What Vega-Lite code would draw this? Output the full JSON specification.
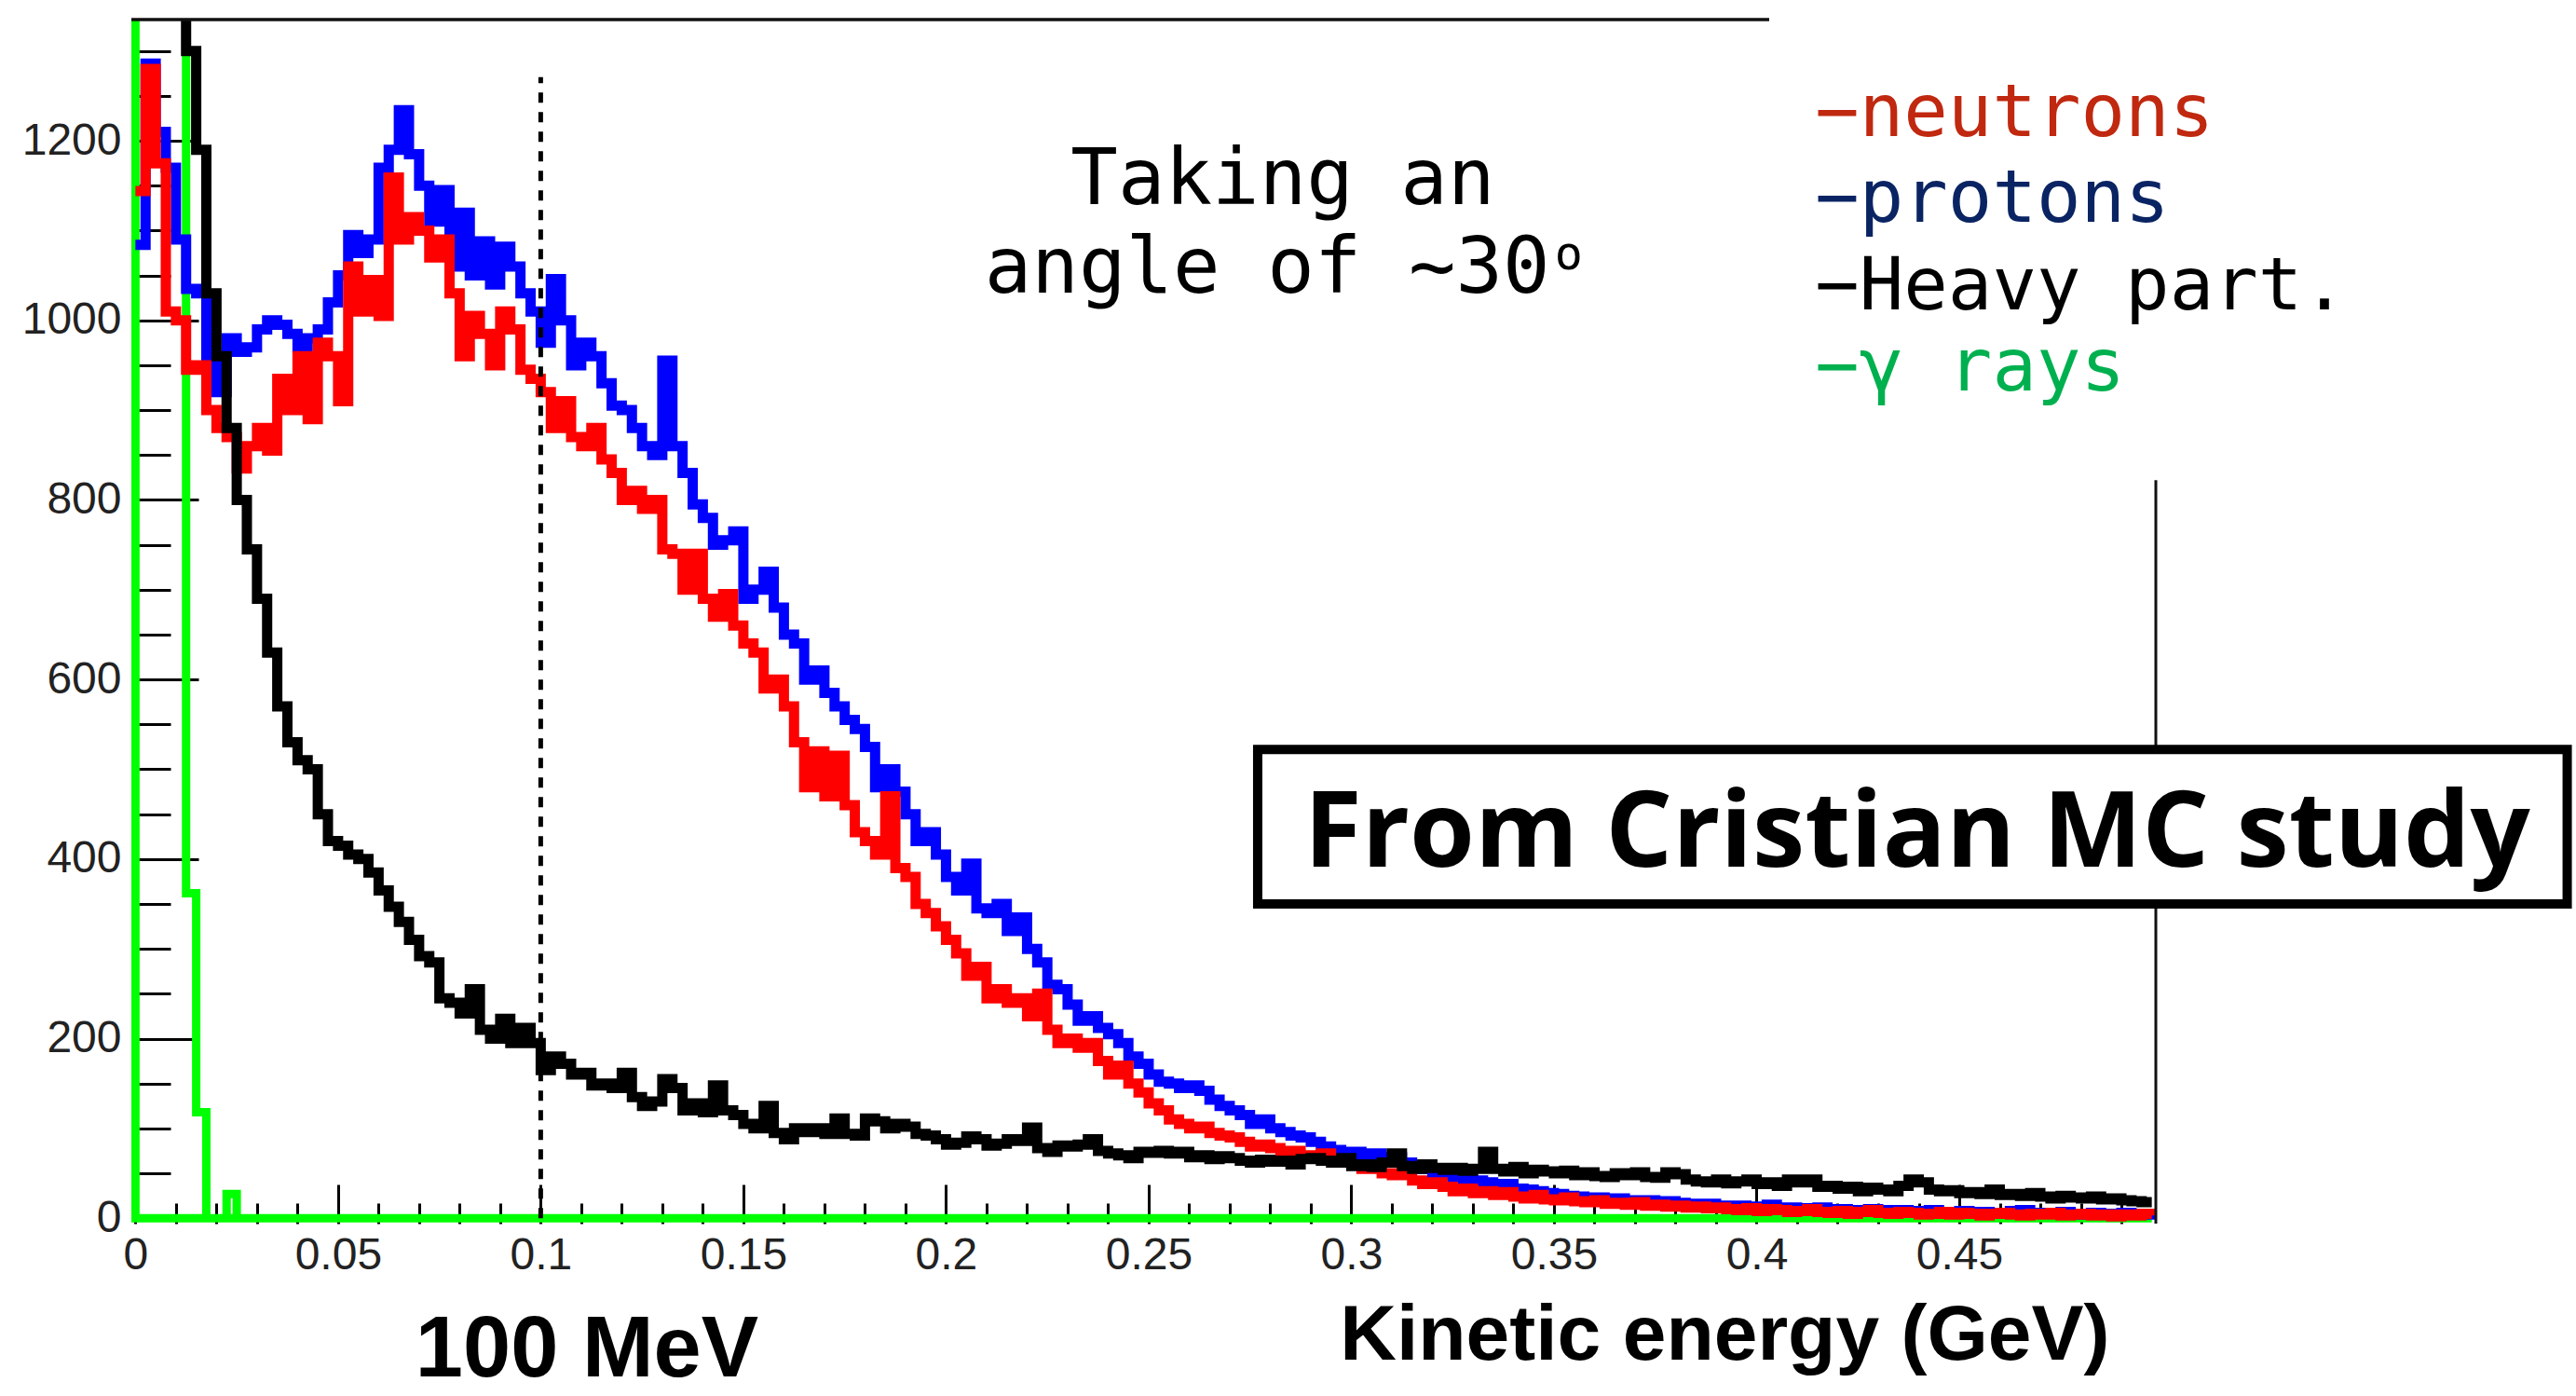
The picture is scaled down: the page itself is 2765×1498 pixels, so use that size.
{
  "$schema": "https://vega.github.io/schema/vega-lite/v6.json",
  "width": 2173,
  "height": 1292,
  "autosize": {"type": "none"},
  "padding": {"left": 141, "top": 21, "right": 451, "bottom": 185},
  "background": "white",
  "config": {"view": {"stroke": null}},
  "datasets": {
    "hist": [
      {"x":0,"n":1144,"p":1084,"h":3000,"g":3000},
      {"x":0.0025,"n":1280,"p":1286,"h":3000,"g":3000},
      {"x":0.005,"n":1175,"p":1210,"h":3000,"g":3000},
      {"x":0.0075,"n":1010,"p":1170,"h":3000,"g":3000},
      {"x":0.01,"n":1000,"p":1090,"h":3000,"g":3000},
      {"x":0.0125,"n":945,"p":1035,"h":1300,"g":362},
      {"x":0.015,"n":950,"p":1030,"h":1190,"g":118},
      {"x":0.0175,"n":900,"p":960,"h":1030,"g":0},
      {"x":0.02,"n":880,"p":920,"h":960,"g":0},
      {"x":0.0225,"n":870,"p":980,"h":880,"g":27},
      {"x":0.025,"n":835,"p":965,"h":800,"g":0},
      {"x":0.0275,"n":860,"p":970,"h":745,"g":0},
      {"x":0.03,"n":880,"p":990,"h":690,"g":0},
      {"x":0.0325,"n":855,"p":1000,"h":630,"g":0},
      {"x":0.035,"n":935,"p":995,"h":570,"g":0},
      {"x":0.0375,"n":900,"p":985,"h":530,"g":0},
      {"x":0.04,"n":960,"p":970,"h":510,"g":0},
      {"x":0.0425,"n":890,"p":980,"h":500,"g":0},
      {"x":0.045,"n":975,"p":990,"h":450,"g":0},
      {"x":0.0475,"n":960,"p":1020,"h":420,"g":0},
      {"x":0.05,"n":910,"p":1050,"h":415,"g":0},
      {"x":0.0525,"n":1060,"p":1095,"h":405,"g":0},
      {"x":0.055,"n":1010,"p":1075,"h":400,"g":0},
      {"x":0.0575,"n":1045,"p":1090,"h":385,"g":0},
      {"x":0.06,"n":1005,"p":1170,"h":365,"g":0},
      {"x":0.0625,"n":1159,"p":1190,"h":347,"g":0},
      {"x":0.065,"n":1090,"p":1234,"h":330,"g":0},
      {"x":0.0675,"n":1115,"p":1185,"h":310,"g":0},
      {"x":0.07,"n":1100,"p":1150,"h":292,"g":0},
      {"x":0.0725,"n":1070,"p":1110,"h":285,"g":0},
      {"x":0.075,"n":1090,"p":1145,"h":245,"g":0},
      {"x":0.0775,"n":1030,"p":1060,"h":240,"g":0},
      {"x":0.08,"n":960,"p":1120,"h":228,"g":0},
      {"x":0.0825,"n":1005,"p":1050,"h":255,"g":0},
      {"x":0.085,"n":985,"p":1088,"h":210,"g":0},
      {"x":0.0875,"n":950,"p":1040,"h":200,"g":0},
      {"x":0.09,"n":1010,"p":1082,"h":222,"g":0},
      {"x":0.0925,"n":990,"p":1060,"h":195,"g":0},
      {"x":0.095,"n":945,"p":1030,"h":212,"g":0},
      {"x":0.0975,"n":935,"p":1010,"h":195,"g":0},
      {"x":0.1,"n":920,"p":975,"h":165,"g":0},
      {"x":0.1025,"n":880,"p":1046,"h":180,"g":0},
      {"x":0.105,"n":910,"p":1000,"h":172,"g":0},
      {"x":0.1075,"n":870,"p":950,"h":160,"g":0},
      {"x":0.11,"n":860,"p":975,"h":162,"g":0},
      {"x":0.1125,"n":880,"p":960,"h":148,"g":0},
      {"x":0.115,"n":845,"p":930,"h":150,"g":0},
      {"x":0.1175,"n":830,"p":905,"h":145,"g":0},
      {"x":0.12,"n":800,"p":900,"h":162,"g":0},
      {"x":0.1225,"n":810,"p":880,"h":135,"g":0},
      {"x":0.125,"n":790,"p":860,"h":125,"g":0},
      {"x":0.1275,"n":800,"p":850,"h":130,"g":0},
      {"x":0.13,"n":745,"p":955,"h":155,"g":0},
      {"x":0.1325,"n":740,"p":860,"h":145,"g":0},
      {"x":0.135,"n":700,"p":830,"h":120,"g":0},
      {"x":0.1375,"n":740,"p":795,"h":128,"g":0},
      {"x":0.14,"n":690,"p":780,"h":118,"g":0},
      {"x":0.1425,"n":670,"p":750,"h":148,"g":0},
      {"x":0.145,"n":695,"p":755,"h":120,"g":0},
      {"x":0.1475,"n":660,"p":765,"h":115,"g":0},
      {"x":0.15,"n":640,"p":690,"h":105,"g":0},
      {"x":0.1525,"n":630,"p":700,"h":100,"g":0},
      {"x":0.155,"n":590,"p":720,"h":125,"g":0},
      {"x":0.1575,"n":600,"p":680,"h":95,"g":0},
      {"x":0.16,"n":570,"p":650,"h":88,"g":0},
      {"x":0.1625,"n":530,"p":640,"h":100,"g":0},
      {"x":0.165,"n":480,"p":600,"h":96,"g":0},
      {"x":0.1675,"n":520,"p":610,"h":100,"g":0},
      {"x":0.17,"n":470,"p":585,"h":94,"g":0},
      {"x":0.1725,"n":515,"p":570,"h":111,"g":0},
      {"x":0.175,"n":460,"p":555,"h":94,"g":0},
      {"x":0.1775,"n":430,"p":545,"h":92,"g":0},
      {"x":0.18,"n":420,"p":525,"h":111,"g":0},
      {"x":0.1825,"n":405,"p":480,"h":108,"g":0},
      {"x":0.185,"n":470,"p":500,"h":100,"g":0},
      {"x":0.1875,"n":390,"p":475,"h":105,"g":0},
      {"x":0.19,"n":380,"p":450,"h":102,"g":0},
      {"x":0.1925,"n":350,"p":420,"h":94,"g":0},
      {"x":0.195,"n":340,"p":430,"h":92,"g":0},
      {"x":0.1975,"n":325,"p":405,"h":88,"g":0},
      {"x":0.2,"n":310,"p":380,"h":82,"g":0},
      {"x":0.2025,"n":295,"p":365,"h":84,"g":0},
      {"x":0.205,"n":270,"p":395,"h":91,"g":0},
      {"x":0.2075,"n":280,"p":345,"h":88,"g":0},
      {"x":0.21,"n":245,"p":340,"h":81,"g":0},
      {"x":0.2125,"n":255,"p":350,"h":83,"g":0},
      {"x":0.215,"n":240,"p":320,"h":88,"g":0},
      {"x":0.2175,"n":245,"p":335,"h":86,"g":0},
      {"x":0.22,"n":225,"p":300,"h":101,"g":0},
      {"x":0.2225,"n":250,"p":285,"h":78,"g":0},
      {"x":0.225,"n":210,"p":260,"h":74,"g":0},
      {"x":0.2275,"n":195,"p":255,"h":81,"g":0},
      {"x":0.23,"n":200,"p":238,"h":80,"g":0},
      {"x":0.2325,"n":190,"p":220,"h":82,"g":0},
      {"x":0.235,"n":195,"p":225,"h":88,"g":0},
      {"x":0.2375,"n":175,"p":212,"h":75,"g":0},
      {"x":0.24,"n":160,"p":205,"h":72,"g":0},
      {"x":0.2425,"n":170,"p":195,"h":70,"g":0},
      {"x":0.245,"n":150,"p":180,"h":67,"g":0},
      {"x":0.2475,"n":140,"p":172,"h":74,"g":0},
      {"x":0.25,"n":128,"p":160,"h":73,"g":0},
      {"x":0.2525,"n":120,"p":152,"h":75,"g":0},
      {"x":0.255,"n":110,"p":150,"h":72,"g":0},
      {"x":0.2575,"n":105,"p":145,"h":74,"g":0},
      {"x":0.26,"n":100,"p":148,"h":68,"g":0},
      {"x":0.2625,"n":102,"p":142,"h":70,"g":0},
      {"x":0.265,"n":95,"p":132,"h":66,"g":0},
      {"x":0.2675,"n":92,"p":125,"h":69,"g":0},
      {"x":0.27,"n":90,"p":120,"h":67,"g":0},
      {"x":0.2725,"n":85,"p":115,"h":64,"g":0},
      {"x":0.275,"n":80,"p":105,"h":62,"g":0},
      {"x":0.2775,"n":82,"p":110,"h":65,"g":0},
      {"x":0.28,"n":78,"p":100,"h":63,"g":0},
      {"x":0.2825,"n":72,"p":96,"h":64,"g":0},
      {"x":0.285,"n":75,"p":92,"h":60,"g":0},
      {"x":0.2875,"n":70,"p":90,"h":66,"g":0},
      {"x":0.29,"n":68,"p":85,"h":67,"g":0},
      {"x":0.2925,"n":72,"p":80,"h":64,"g":0},
      {"x":0.295,"n":64,"p":76,"h":62,"g":0},
      {"x":0.2975,"n":66,"p":68,"h":67,"g":0},
      {"x":0.3,"n":60,"p":74,"h":58,"g":0},
      {"x":0.3025,"n":55,"p":70,"h":60,"g":0},
      {"x":0.305,"n":58,"p":72,"h":57,"g":0},
      {"x":0.3075,"n":50,"p":67,"h":62,"g":0},
      {"x":0.31,"n":48,"p":68,"h":72,"g":0},
      {"x":0.3125,"n":52,"p":62,"h":58,"g":0},
      {"x":0.315,"n":42,"p":58,"h":55,"g":0},
      {"x":0.3175,"n":38,"p":55,"h":60,"g":0},
      {"x":0.32,"n":40,"p":50,"h":56,"g":0},
      {"x":0.3225,"n":35,"p":48,"h":54,"g":0},
      {"x":0.325,"n":30,"p":45,"h":56,"g":0},
      {"x":0.3275,"n":33,"p":44,"h":53,"g":0},
      {"x":0.33,"n":28,"p":42,"h":55,"g":0},
      {"x":0.3325,"n":30,"p":40,"h":74,"g":0},
      {"x":0.335,"n":26,"p":36,"h":55,"g":0},
      {"x":0.3375,"n":29,"p":38,"h":52,"g":0},
      {"x":0.34,"n":24,"p":33,"h":57,"g":0},
      {"x":0.3425,"n":22,"p":32,"h":50,"g":0},
      {"x":0.345,"n":26,"p":30,"h":54,"g":0},
      {"x":0.3475,"n":21,"p":28,"h":52,"g":0},
      {"x":0.35,"n":20,"p":27,"h":50,"g":0},
      {"x":0.3525,"n":23,"p":25,"h":53,"g":0},
      {"x":0.355,"n":19,"p":24,"h":48,"g":0},
      {"x":0.3575,"n":18,"p":22,"h":51,"g":0},
      {"x":0.36,"n":20,"p":23,"h":47,"g":0},
      {"x":0.3625,"n":16,"p":21,"h":46,"g":0},
      {"x":0.365,"n":17,"p":22,"h":50,"g":0},
      {"x":0.3675,"n":15,"p":20,"h":48,"g":0},
      {"x":0.37,"n":18,"p":19,"h":51,"g":0},
      {"x":0.3725,"n":14,"p":20,"h":46,"g":0},
      {"x":0.375,"n":15,"p":18,"h":45,"g":0},
      {"x":0.3775,"n":13,"p":19,"h":51,"g":0},
      {"x":0.38,"n":14,"p":17,"h":49,"g":0},
      {"x":0.3825,"n":12,"p":16,"h":43,"g":0},
      {"x":0.385,"n":13,"p":15,"h":41,"g":0},
      {"x":0.3875,"n":11,"p":16,"h":40,"g":0},
      {"x":0.39,"n":12,"p":14,"h":43,"g":0},
      {"x":0.3925,"n":10,"p":13,"h":39,"g":0},
      {"x":0.395,"n":9,"p":14,"h":41,"g":0},
      {"x":0.3975,"n":11,"p":12,"h":43,"g":0},
      {"x":0.4,"n":8,"p":13,"h":38,"g":0},
      {"x":0.4025,"n":10,"p":15,"h":40,"g":0},
      {"x":0.405,"n":9,"p":11,"h":36,"g":0},
      {"x":0.4075,"n":7,"p":12,"h":43,"g":0},
      {"x":0.41,"n":8,"p":11,"h":40,"g":0},
      {"x":0.4125,"n":10,"p":10,"h":43,"g":0},
      {"x":0.415,"n":7,"p":12,"h":35,"g":0},
      {"x":0.4175,"n":6,"p":9,"h":36,"g":0},
      {"x":0.42,"n":8,"p":10,"h":33,"g":0},
      {"x":0.4225,"n":5,"p":9,"h":35,"g":0},
      {"x":0.425,"n":7,"p":8,"h":30,"g":0},
      {"x":0.4275,"n":9,"p":10,"h":34,"g":0},
      {"x":0.43,"n":6,"p":9,"h":32,"g":0},
      {"x":0.4325,"n":5,"p":8,"h":30,"g":0},
      {"x":0.435,"n":7,"p":9,"h":36,"g":0},
      {"x":0.4375,"n":6,"p":8,"h":43,"g":0},
      {"x":0.44,"n":4,"p":7,"h":40,"g":0},
      {"x":0.4425,"n":5,"p":9,"h":32,"g":0},
      {"x":0.445,"n":7,"p":6,"h":30,"g":0},
      {"x":0.4475,"n":4,"p":7,"h":31,"g":0},
      {"x":0.45,"n":6,"p":8,"h":28,"g":0},
      {"x":0.4525,"n":5,"p":6,"h":29,"g":0},
      {"x":0.455,"n":3,"p":7,"h":27,"g":0},
      {"x":0.4575,"n":5,"p":5,"h":32,"g":0},
      {"x":0.46,"n":6,"p":6,"h":26,"g":0},
      {"x":0.4625,"n":4,"p":8,"h":27,"g":0},
      {"x":0.465,"n":3,"p":9,"h":25,"g":0},
      {"x":0.4675,"n":5,"p":6,"h":28,"g":0},
      {"x":0.47,"n":4,"p":5,"h":24,"g":0},
      {"x":0.4725,"n":6,"p":6,"h":22,"g":0},
      {"x":0.475,"n":3,"p":7,"h":25,"g":0},
      {"x":0.4775,"n":4,"p":5,"h":23,"g":0},
      {"x":0.48,"n":5,"p":4,"h":22,"g":0},
      {"x":0.4825,"n":3,"p":6,"h":24,"g":0},
      {"x":0.485,"n":4,"p":5,"h":21,"g":0},
      {"x":0.4875,"n":2,"p":4,"h":22,"g":0},
      {"x":0.49,"n":4,"p":6,"h":20,"g":0},
      {"x":0.4925,"n":3,"p":5,"h":19,"g":0},
      {"x":0.495,"n":5,"p":4,"h":18,"g":0},
      {"x":0.4975,"n":3,"p":5,"h":18,"g":0}
    ]
  },
  "resolve": {"axis": {"x": "independent", "y": "independent"}},
  "layer": [
    {
      "data": {"name": "hist"},
      "mark": {"type": "area", "interpolate": "step-after", "fillOpacity": 0, "stroke": "#00ff00", "strokeWidth": 9, "clip": true},
      "encoding": {
        "x": {"field": "x", "type": "quantitative", "scale": {"domain": [-0.001, 0.4985], "nice": false}, "axis": null},
        "y": {"field": "g", "type": "quantitative", "scale": {"domain": [-6, 1335], "nice": false}, "axis": null},
        "y2": {"datum": 0}
      }
    },
    {
      "data": {"name": "hist"},
      "mark": {"type": "line", "interpolate": "step-after", "color": "#0000ff", "strokeWidth": 11, "clip": true},
      "encoding": {
        "x": {"field": "x", "type": "quantitative", "scale": {"domain": [-0.001, 0.4985], "nice": false},
              "axis": {"orient": "bottom", "values": [0.01,0.02,0.03,0.04,0.06,0.07,0.08,0.09,0.11,0.12,0.13,0.14,0.16,0.17,0.18,0.19,0.21,0.22,0.23,0.24,0.26,0.27,0.28,0.29,0.31,0.32,0.33,0.34,0.36,0.37,0.38,0.39,0.41,0.42,0.43,0.44,0.46,0.47,0.48,0.49],
                       "tickSize": -22, "tickWidth": 3, "tickColor": "#000", "labels": false, "domain": false, "grid": false, "title": null}},
        "y": {"field": "p", "type": "quantitative", "scale": {"domain": [-6, 1335], "nice": false},
              "axis": {"orient": "left", "values": [50,100,150,250,300,350,450,500,550,650,700,750,850,900,950,1050,1100,1150,1250,1300],
                       "tickSize": -42, "tickWidth": 3, "tickColor": "#000", "labels": false, "domain": false, "grid": false, "title": null}}
      }
    },
    {
      "data": {"name": "hist"},
      "mark": {"type": "line", "interpolate": "step-after", "color": "#ff0000", "strokeWidth": 11, "clip": true},
      "encoding": {
        "x": {"field": "x", "type": "quantitative", "scale": {"domain": [-0.001, 0.4985], "nice": false}, "axis": null},
        "y": {"field": "n", "type": "quantitative", "scale": {"domain": [-6, 1335], "nice": false}, "axis": null}
      }
    },
    {
      "data": {"name": "hist"},
      "mark": {"type": "line", "interpolate": "step-after", "color": "#000000", "strokeWidth": 11, "clip": true},
      "encoding": {
        "x": {"field": "x", "type": "quantitative", "scale": {"domain": [-0.001, 0.4985], "nice": false},
              "axis": {"orient": "bottom", "values": [0,0.05,0.1,0.15,0.2,0.25,0.3,0.35,0.4,0.45], "format": ".2~f",
                       "tickSize": -42, "tickWidth": 3, "tickColor": "#000", "domain": false, "grid": false,
                       "labelFont": "Liberation Sans", "labelFontSize": 48, "labelColor": "#222", "labelPadding": 52,
                       "labelFlush": false, "labelOverlap": false, "labelBound": false,
                       "title": "Kinetic energy (GeV)", "titleFont": "Liberation Sans", "titleFontSize": 84, "titleFontWeight": "bold",
                       "titleColor": "#000", "titleAlign": "right", "titleAnchor": "end", "titleX": 2123, "titleY": 145, "titleBaseline": "alphabetic"}},
        "y": {"field": "h", "type": "quantitative", "scale": {"domain": [-6, 1335], "nice": false},
              "axis": {"orient": "left", "values": [0,200,400,600,800,1000,1200], "format": "d",
                       "tickSize": -72, "tickWidth": 3, "tickColor": "#000", "domain": false, "grid": false,
                       "labelFont": "Liberation Sans", "labelFontSize": 48, "labelColor": "#222", "labelPadding": 83,
                       "labelFlush": false, "labelOverlap": false, "labelBound": false, "title": null}}
      }
    },
    {
      "data": {"values": [{}]},
      "mark": {"type": "rule", "color": "#000", "strokeWidth": 5, "strokeDash": [11, 10]},
      "encoding": {
        "x": {"datum": 0.1, "type": "quantitative", "axis": null},
        "y": {"datum": 0, "type": "quantitative", "axis": null},
        "y2": {"datum": 1271}
      }
    },
    {
      "data": {"values": [{}]},
      "mark": {"type": "rule", "color": "#111", "strokeWidth": 3.5},
      "encoding": {
        "x": {"datum": -0.001, "type": "quantitative", "axis": null},
        "x2": {"datum": 0.4031},
        "y": {"datum": 1335, "type": "quantitative", "axis": null}
      }
    },
    {
      "data": {"values": [{}]},
      "mark": {"type": "rule", "color": "#111", "strokeWidth": 3},
      "encoding": {
        "x": {"datum": 0.4985, "type": "quantitative", "axis": null},
        "y": {"datum": -6, "type": "quantitative", "axis": null},
        "y2": {"datum": 822}
      }
    },
    {
      "data": {"values": [{}]},
      "mark": {"type": "text", "text": "−neutrons", "font": "DejaVu Sans Mono", "fontSize": 79, "color": "#c0280f", "align": "left", "baseline": "alphabetic"},
      "encoding": {"x": {"datum": 0.4144, "type": "quantitative", "axis": null}, "y": {"datum": 1205, "type": "quantitative", "axis": null}}
    },
    {
      "data": {"values": [{}]},
      "mark": {"type": "text", "text": "−protons", "font": "DejaVu Sans Mono", "fontSize": 79, "color": "#0a2463", "align": "left", "baseline": "alphabetic"},
      "encoding": {"x": {"datum": 0.4144, "type": "quantitative", "axis": null}, "y": {"datum": 1110, "type": "quantitative", "axis": null}}
    },
    {
      "data": {"values": [{}]},
      "mark": {"type": "text", "text": "−Heavy part.", "font": "DejaVu Sans Mono", "fontSize": 79, "color": "#000000", "align": "left", "baseline": "alphabetic"},
      "encoding": {"x": {"datum": 0.4144, "type": "quantitative", "axis": null}, "y": {"datum": 1012, "type": "quantitative", "axis": null}}
    },
    {
      "data": {"values": [{}]},
      "mark": {"type": "text", "text": "−γ rays", "font": "DejaVu Sans Mono", "fontSize": 79, "color": "#00b04f", "align": "left", "baseline": "alphabetic"},
      "encoding": {"x": {"datum": 0.4144, "type": "quantitative", "axis": null}, "y": {"datum": 922, "type": "quantitative", "axis": null}}
    },
    {
      "data": {"values": [{}]},
      "mark": {"type": "text", "text": "Taking an", "font": "DejaVu Sans Mono", "fontSize": 84, "color": "#000", "align": "center", "baseline": "alphabetic"},
      "encoding": {"x": {"datum": 0.2831, "type": "quantitative", "axis": null}, "y": {"datum": 1129, "type": "quantitative", "axis": null}}
    },
    {
      "data": {"values": [{}]},
      "mark": {"type": "text", "text": "angle of ~30", "font": "DejaVu Sans Mono", "fontSize": 84, "color": "#000", "align": "left", "baseline": "alphabetic"},
      "encoding": {"x": {"datum": 0.2095, "type": "quantitative", "axis": null}, "y": {"datum": 1031, "type": "quantitative", "axis": null}}
    },
    {
      "data": {"values": [{}]},
      "mark": {"type": "text", "text": "o", "font": "DejaVu Sans Mono", "fontSize": 50, "color": "#000", "align": "left", "baseline": "alphabetic"},
      "encoding": {"x": {"datum": 0.3502, "type": "quantitative", "axis": null}, "y": {"datum": 1057, "type": "quantitative", "axis": null}}
    },
    {
      "data": {"values": [{}]},
      "mark": {"type": "rect", "fill": "#ffffff", "stroke": "#000000", "strokeWidth": 10},
      "encoding": {
        "x": {"datum": 0.2769, "type": "quantitative", "axis": null},
        "x2": {"datum": 0.6},
        "y": {"datum": 522, "type": "quantitative", "axis": null},
        "y2": {"datum": 350}
      }
    },
    {
      "data": {"values": [{}]},
      "mark": {"type": "text", "text": "From Cristian MC study", "font": "Open Sans", "fontWeight": "bold", "fontSize": 113, "color": "#000", "align": "center", "baseline": "alphabetic"},
      "encoding": {"x": {"datum": 0.4396, "type": "quantitative", "axis": null}, "y": {"datum": 391.5, "type": "quantitative", "axis": null}}
    },
    {
      "data": {"values": [{}]},
      "mark": {"type": "text", "text": "100 MeV", "font": "Liberation Sans", "fontWeight": "bold", "fontSize": 92, "color": "#000", "align": "center", "baseline": "alphabetic"},
      "encoding": {"x": {"datum": 0.1114, "type": "quantitative", "axis": null}, "y": {"datum": -176, "type": "quantitative", "axis": null}}
    }
  ]
}
